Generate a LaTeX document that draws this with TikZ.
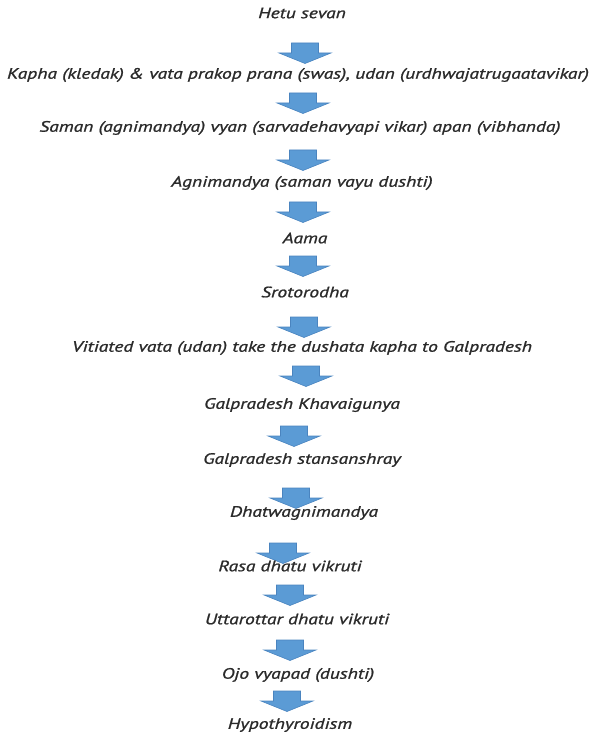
\documentclass[tikz,border=0pt]{standalone}
\usepackage{fontspec}
\setmainfont{PT Sans}[FakeStretch=1.3, FakeBold=1.2]
\usetikzlibrary{positioning}

\definecolor{arrowblue}{HTML}{5B9BD5}
\definecolor{arrowedge}{HTML}{4A84BF}
\definecolor{textgrey}{HTML}{2A2A2A}

\tikzset{
  stage/.style={font=\fontsize{15}{17}\selectfont\itshape, text=textgrey, inner sep=1pt},
  pics/blockdown/.style={code={
      \filldraw[fill=arrowblue, draw=arrowedge, line width=0.6pt]
        (-13.5,-10) -- (13.5,-10) -- (13.5,0) -- (26,0) -- (0,10.5)
        -- (-26,0) -- (-13.5,0) -- cycle;}}
}

\begin{document}
\begin{tikzpicture}[x=1pt, y=-1pt]
  \useasboundingbox (0,0) rectangle (596,735);
  % stages
  \node [stage] (hetu)     at (302,13)  {Hetu sevan};
  \node [stage] (kapha)    at (298,75)  {Kapha (kledak) \& vata prakop prana (swas), udan (urdhwajatrugaatavikar)};
  \node [stage] (saman)    at (300,128) {Saman (agnimandya) vyan (sarvadehavyapi vikar) apan (vibhanda)};
  \node [stage] (agni)     at (302,183) {Agnimandya (saman vayu dushti)};
  \node [stage] (aama)     at (305,238) {Aama};
  \node [stage] (sroto)    at (305,292) {Srotorodha};
  \node [stage] (vitiated) at (302,348) {Vitiated vata (udan) take the dushata kapha to Galpradesh};
  \node [stage] (khavai)   at (302,405) {Galpradesh Khavaigunya};
  \node [stage] (sthan)    at (302,460) {Galpradesh stansanshray};
  % arrows
  \pic at (305,53)  {blockdown};
  \pic at (303,103) {blockdown};
  \pic at (303,160) {blockdown};
  \pic at (303,212) {blockdown};
  \pic at (303,266) {blockdown};
  \pic at (304,327) {blockdown};
  \pic at (306,376) {blockdown};
  \pic at (294,436) {blockdown};
  \pic at (296,498) {blockdown};
  \pic at (283,553) {blockdown};
  \pic at (290,595) {blockdown};
  \pic at (290,650) {blockdown};
  \pic at (287,701) {blockdown};
  % lower stages, drawn over the arrows
  \node [stage] (dhatwa)   at (304,513) {Dhatwagnimandya};
  \node [stage] (rasa)     at (290,566) {Rasa dhatu vikruti};
  \node [stage] (uttar)    at (297,619) {Uttarottar dhatu vikruti};
  \node [stage] (ojo)      at (298,675) {Ojo vyapad (dushti)};
  \node [stage] (hypo)     at (290,725) {Hypothyroidism};
\end{tikzpicture}
\end{document}
